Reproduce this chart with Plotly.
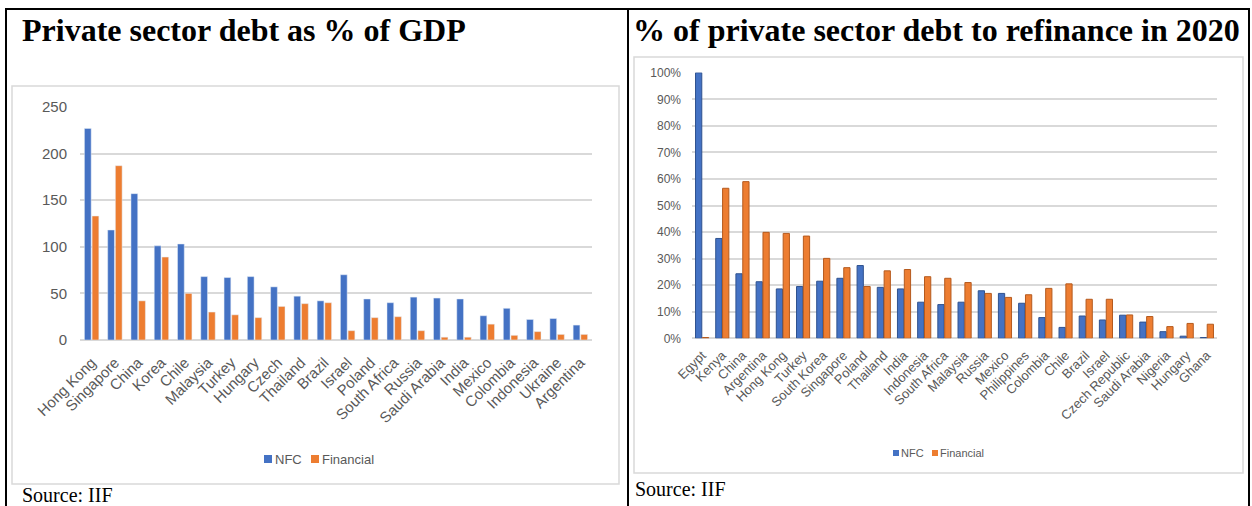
import plotly.graph_objects as go

W, H = 1252, 506

def px(x):
    return x / W

def py(y):
    return 1 - y / H

# ---------------- data ----------------
left_countries = ["Hong Kong", "Singapore", "China", "Korea", "Chile", "Malaysia", "Turkey",
                  "Hungary", "Czech", "Thailand", "Brazil", "Israel", "Poland", "South Africa",
                  "Russia", "Saudi Arabia", "India", "Mexico", "Colombia", "Indonesia",
                  "Ukraine", "Argentina"]
left_nfc = [227, 118, 157, 101, 103, 68, 67, 68, 57, 47, 42, 70, 44, 40, 46, 45, 44, 26, 34, 22, 23, 16]
left_fin = [133, 187, 42, 89, 50, 30, 27, 24, 36, 39, 40, 10, 24, 25, 10, 3, 3, 17, 5, 9, 6, 6]
left_yticks = [0, 50, 100, 150, 200, 250]

right_countries = ["Egypt", "Kenya", "China", "Argentina", "Hong Kong", "Turkey", "South Korea",
                   "Singapore", "Poland", "Thailand", "India", "Indonesia", "South Africa",
                   "Malaysia", "Russia", "Mexico", "Philippines", "Colombia", "Chile", "Brazil",
                   "Israel", "Czech Republic", "Saudi Arabia", "Nigeria", "Hungary", "Ghana"]
right_nfc = [1.00, 0.376, 0.243, 0.213, 0.186, 0.195, 0.215, 0.226, 0.274, 0.192, 0.186, 0.136,
             0.127, 0.136, 0.179, 0.169, 0.132, 0.078, 0.041, 0.084, 0.069, 0.087, 0.061,
             0.025, 0.008, 0.003]
right_fin = [0.003, 0.565, 0.590, 0.399, 0.395, 0.385, 0.301, 0.266, 0.195, 0.254, 0.259, 0.232,
             0.226, 0.210, 0.169, 0.154, 0.164, 0.188, 0.205, 0.147, 0.147, 0.088, 0.082,
             0.044, 0.056, 0.053]

series_names = ["NFC", "Financial"]

BLUE = "#4472C4"
ORANGE = "#ED7D31"
GRID = "#d9d9d9"
TXT = "#595959"
SANS = "Liberation Sans, Arial, sans-serif"
SERIF = "Liberation Serif, Times New Roman, serif"

fig = go.Figure()

# left chart
lw, lg = 0.29, 0.04
fig.add_trace(go.Bar(x=left_countries, y=left_nfc, name=series_names[0], marker_color=BLUE,
                     width=lw, offset=-lw - lg / 2, xaxis="x", yaxis="y"))
fig.add_trace(go.Bar(x=left_countries, y=left_fin, name=series_names[1], marker_color=ORANGE,
                     width=lw, offset=lg / 2, xaxis="x", yaxis="y"))

# right chart
rw, rg = 0.31, 0.03
fig.add_trace(go.Bar(x=right_countries, y=right_nfc, name=series_names[0], marker_color=BLUE,
                     marker_line_color="#2F528F", marker_line_width=1,
                     width=rw, offset=-rw - rg / 2, xaxis="x2", yaxis="y2"))
fig.add_trace(go.Bar(x=right_countries, y=right_fin, name=series_names[1], marker_color=ORANGE,
                     marker_line_color="#B55A1E", marker_line_width=1,
                     width=rw, offset=rg / 2, xaxis="x2", yaxis="y2"))

shapes = []
# table borders
for (x0, y0, x1, y1) in [(5, 9, 1250, 9), (6, 9, 6, 506), (628, 9, 628, 506), (1249, 9, 1249, 506)]:
    shapes.append(dict(type="line", xref="paper", yref="paper", x0=px(x0), y0=py(y0),
                       x1=px(x1), y1=py(y1), line=dict(color="black", width=2)))
# chart frames
shapes.append(dict(type="rect", xref="paper", yref="paper", x0=px(12), y0=py(484), x1=px(619),
                   y1=py(86), line=dict(color=GRID, width=1.5), layer="below"))
shapes.append(dict(type="rect", xref="paper", yref="paper", x0=px(634), y0=py(473), x1=px(1243),
                   y1=py(57), line=dict(color=GRID, width=1.5), layer="below"))

annotations = [
    dict(text="<b>Private sector debt as % of GDP</b>", x=px(20), y=py(30), xref="paper",
         yref="paper", xanchor="left", yanchor="middle", showarrow=False,
         font=dict(family=SERIF, size=32, color="black")),
    dict(text="<b>% of private sector debt to refinance in 2020</b>", x=px(631), y=py(30),
         xref="paper", yref="paper", xanchor="left", yanchor="middle", showarrow=False,
         font=dict(family=SERIF, size=32, color="black")),
    dict(text="Source: IIF", x=px(20), y=py(495), xref="paper", yref="paper", xanchor="left",
         yanchor="middle", showarrow=False, font=dict(family=SERIF, size=20, color="black")),
    dict(text="Source: IIF", x=px(633), y=py(489), xref="paper", yref="paper", xanchor="left",
         yanchor="middle", showarrow=False, font=dict(family=SERIF, size=20, color="black")),
]

# compact legends (square swatch + label), Excel style
def add_legend(x_start, y_mid, sq, gap_txt, gap_item, fsize, text_widths):
    x = x_start
    for name, col, tw in zip(series_names, [BLUE, ORANGE], text_widths):
        shapes.append(dict(type="rect", xref="paper", yref="paper", x0=px(x), x1=px(x + sq),
                           y0=py(y_mid + sq / 2), y1=py(y_mid - sq / 2),
                           fillcolor=col, line=dict(width=0)))
        annotations.append(dict(text=name, x=px(x + sq + gap_txt), y=py(y_mid), xref="paper",
                                yref="paper", xanchor="left", yanchor="middle", showarrow=False,
                                borderpad=0, font=dict(family=SANS, size=fsize, color=TXT)))
        x = x + sq + gap_txt + tw + gap_item

add_legend(264, 459, 8, 2, 11, 13, [26, 53])
add_legend(893, 453, 6, 1, 9, 11, [23, 44])

fig.update_layout(
    width=W, height=H,
    margin=dict(l=0, r=0, t=0, b=0),
    paper_bgcolor="white", plot_bgcolor="white",
    barmode="overlay",
    showlegend=False,
    font=dict(family=SANS, color=TXT),
    shapes=shapes,
    annotations=annotations,
    xaxis=dict(domain=[px(80), px(592)], anchor="y", tickangle=-45, showgrid=False,
               showline=False, ticks="", tickfont=dict(size=15, color=TXT), automargin=False,
               ticklabelstandoff=10,
               range=[-0.5, len(left_countries) - 0.5]),
    yaxis=dict(domain=[py(340), py(106.5)], anchor="x", range=[0, 250.5], tickvals=left_yticks,
               showgrid=True, gridcolor=GRID, gridwidth=1.5, zeroline=True, zerolinecolor=GRID,
               zerolinewidth=1.5, showline=False, ticks="", tickfont=dict(size=15, color=TXT),
               ticklabelstandoff=12, automargin=False),
    xaxis2=dict(domain=[px(692), px(1217)], anchor="y2", tickangle=-45, showgrid=False,
                showline=False, ticks="", tickfont=dict(size=13, color=TXT), automargin=False,
                ticklabelstandoff=6,
                range=[-0.5, len(right_countries) - 0.5]),
    yaxis2=dict(domain=[py(338.3), py(72.5)], anchor="x2", range=[0, 1.001], dtick=0.1,
                tickformat=".0%", showgrid=True, gridcolor=GRID, gridwidth=1.5, zeroline=True,
                zerolinecolor=GRID, zerolinewidth=1.5, showline=False, ticks="",
                tickfont=dict(size=12, color=TXT), ticklabelstandoff=10, automargin=False),
)

fig.write_html("out.html", config={"displayModeBar": False},
               post_script="document.body.style.margin='0px';")
